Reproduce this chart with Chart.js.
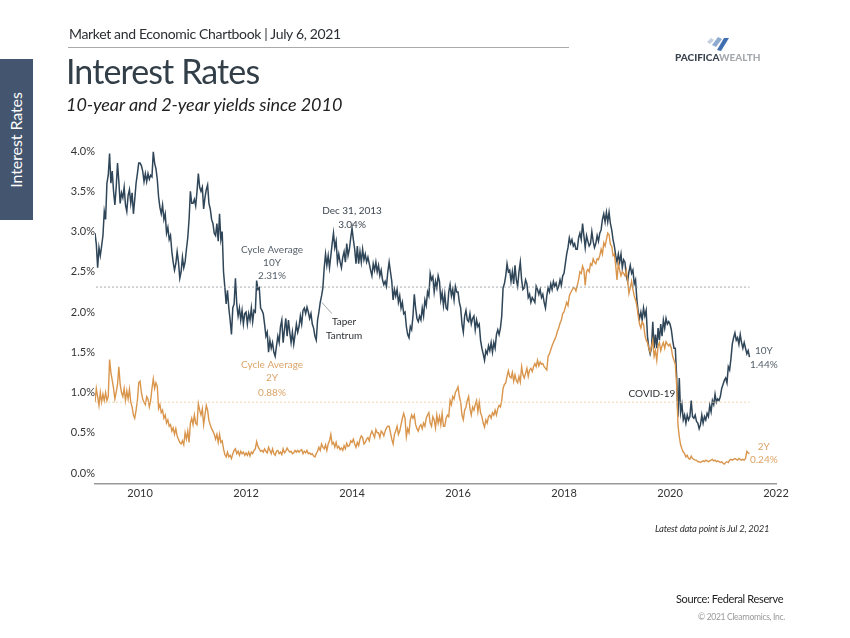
<!DOCTYPE html>
<html>
<head>
<meta charset="utf-8">
<title>Interest Rates</title>
<script src="https://cdn.jsdelivr.net/npm/chart.js@4"></script>
<style>
  html, body { margin: 0; padding: 0; background: #fff; }
  body { position: relative; width: 850px; height: 638px; overflow: hidden; font-family: Lato, sans-serif; }
  canvas { position: absolute; left: 0; top: 0; }
  .t { position: absolute; white-space: nowrap; line-height: 1; }
  #book { left: 69px; top: 27px; font-size: 14px; letter-spacing: -0.34px; color: #2b2f33; }
  #rule { position: absolute; left: 68px; top: 47px; width: 501px; height: 1px; background: #aaa; }
  #title { left: 66px; top: 54px; font-size: 34px; letter-spacing: -0.9px; font-weight: 400; color: #333f48; }
  #sub { left: 66px; top: 95px; font-size: 18px; letter-spacing: -0.05px; font-style: italic; color: #222; }
  #side { position: absolute; left: 0; top: 59px; width: 33px; height: 161px; background: #44566f; }
  #sideText { left: 16px; top: 140px; font-size: 16px; color: #fff; letter-spacing: -0.1px; transform: translate(-50%, -50%) rotate(-90deg); }
  #latest { left: 655px; top: 524px; font-size: 9.5px; letter-spacing: -0.25px; font-style: italic; color: #333; }
  #source { left: 676px; top: 593px; font-size: 11px; letter-spacing: -0.35px; color: #222; }
  #copy { left: 698px; top: 613px; font-size: 8.5px; letter-spacing: -0.3px; color: #999; }
  #logo { position: absolute; left: 706px; top: 36px; }
  #brand { left: 675px; top: 52px; font-size: 10px; font-weight: 900; color: #3c4450; }
  #brand span { color: #a5a9ad; }
</style>
</head>
<body>
<canvas id="ratesChart" width="850" height="638"></canvas>
<div class="t" id="book">Market and Economic Chartbook | July 6, 2021</div>
<div id="rule"></div>
<div class="t" id="title">Interest Rates</div>
<div class="t" id="sub">10-year and 2-year yields since 2010</div>
<div id="side"></div>
<div class="t" id="sideText">Interest Rates</div>
<svg id="logo" width="24" height="16">
  <polygon points="1,6 5,2 8,4 4,8" fill="#c3cfe0"/>
  <polygon points="6,9 12,1 16,3 10,11" fill="#8fabd0"/>
  <polygon points="11,14 18,2 23,2 15,15" fill="#3f6fb0"/>
</svg>
<div class="t" id="brand">PACIFICA<span>WEALTH</span></div>
<div class="t" id="latest">Latest data point is Jul 2, 2021</div>
<div class="t" id="source">Source: Federal Reserve</div>
<div class="t" id="copy">© 2021 Clearnomics, Inc.</div>

<script>
// one reading every 0.025 of a year, first one at 2009.15
var firstYear = 2009.15;
var yearStep = 0.025;

var tenYear = [
  2.98,2.84,2.55,2.80,2.70,2.82,2.95,3.25,3.15,3.60,3.70,3.97,3.60,3.75,3.50,3.33,3.55,3.85,3.62,3.35,3.48,3.42,3.55,3.33,3.25,3.45,3.52,3.35,3.48,3.22,3.40,3.60,3.72,3.85,
  // 2010
  3.85,3.82,3.75,3.62,3.72,3.62,3.72,3.65,3.70,3.68,3.99,3.85,3.78,3.65,3.43,3.30,3.22,3.33,3.15,3.22,
  2.98,3.05,2.90,2.95,2.75,2.62,2.52,2.60,2.75,2.62,2.42,2.50,2.68,2.55,2.62,2.78,2.92,3.15,3.50,3.35,
  // 2011
  3.35,3.40,3.32,3.50,3.72,3.55,3.50,3.55,3.28,3.42,3.52,3.58,3.35,3.28,3.15,3.10,2.98,2.95,3.10,2.88,
  3.22,2.90,3.00,2.50,2.31,2.10,2.27,2.05,1.90,1.72,2.05,2.10,2.42,2.10,1.95,2.05,1.90,2.02,1.85,1.98,
  // 2012
  2.00,1.85,1.98,1.90,2.05,1.88,2.02,2.00,2.39,2.28,2.30,2.05,2.02,1.98,1.85,1.70,1.75,1.50,1.65,1.55,
  1.62,1.50,1.45,1.58,1.70,1.62,1.82,1.90,1.62,1.78,1.92,1.70,1.90,1.75,1.62,1.75,1.60,1.72,1.85,1.75,
  // 2013
  1.82,1.95,1.85,2.02,2.05,1.98,2.06,2.00,1.92,1.98,1.85,1.80,1.70,1.65,1.90,2.00,2.12,2.20,2.30,2.55,
  2.72,2.58,2.70,2.55,2.70,2.85,2.98,2.80,2.88,2.62,2.72,2.62,2.55,2.68,2.75,2.62,2.85,2.70,2.78,2.92,
  // 2014
  3.04,2.90,2.78,2.60,2.82,2.60,2.75,2.62,2.78,2.65,2.72,2.62,2.68,2.60,2.52,2.45,2.60,2.52,2.62,2.50,
  2.58,2.45,2.52,2.40,2.34,2.38,2.32,2.50,2.62,2.50,2.38,2.15,2.28,2.20,2.28,2.12,2.20,2.05,2.12,1.98,
  // 2015
  2.00,1.82,1.72,1.68,1.82,1.78,1.95,2.22,2.05,1.92,1.88,1.95,1.90,2.05,1.95,2.15,2.08,2.25,2.20,2.48,
  2.40,2.44,2.25,2.38,2.30,2.45,2.38,2.15,2.24,2.08,2.22,2.05,2.03,2.25,2.34,2.20,2.28,2.15,2.32,2.25,
  // 2016
  2.25,2.12,2.05,1.85,1.75,1.95,2.02,1.90,1.88,1.98,1.85,1.92,1.95,1.78,1.90,1.82,1.85,1.65,1.55,1.48,
  1.40,1.52,1.48,1.58,1.52,1.62,1.50,1.62,1.55,1.72,1.78,1.72,1.80,1.95,2.30,2.35,2.45,2.60,2.50,2.52,
  // 2017
  2.38,2.50,2.35,2.58,2.40,2.32,2.50,2.62,2.40,2.28,2.30,2.40,2.35,2.18,2.22,2.12,2.18,2.15,2.12,2.32,
  2.28,2.22,2.28,2.18,2.22,2.12,2.05,2.20,2.30,2.25,2.35,2.28,2.38,2.32,2.36,2.28,2.32,2.40,2.33,2.45,
  // 2018
  2.48,2.60,2.72,2.80,2.92,2.85,2.90,2.82,2.85,2.78,2.78,2.92,2.98,2.90,3.10,2.95,2.80,2.95,2.88,2.82,
  2.85,3.00,2.88,2.80,2.85,2.95,2.88,2.98,3.02,3.15,3.22,3.12,3.24,3.12,3.24,3.10,3.02,2.90,2.82,2.70,
  // 2019
  2.62,2.72,2.62,2.72,2.55,2.65,2.62,2.45,2.38,2.50,2.58,2.48,2.52,2.35,2.40,2.15,2.00,1.92,2.00,1.90,
  2.05,1.95,2.02,1.70,1.55,1.48,1.55,1.88,1.55,1.72,1.55,1.80,1.65,1.85,1.70,1.90,1.80,1.92,1.85,1.88,
  // 2020
  1.85,1.78,1.65,1.55,1.55,1.20,0.70,1.18,0.75,0.85,0.66,0.72,0.62,0.72,0.66,0.70,0.90,0.70,0.68,0.72,
  0.64,0.62,0.55,0.60,0.72,0.62,0.70,0.66,0.74,0.70,0.84,0.76,0.90,0.85,0.98,0.88,0.92,0.90,0.95,1.05,
  // 2021
  1.10,1.15,1.18,1.12,1.32,1.28,1.42,1.60,1.68,1.74,1.65,1.68,1.60,1.72,1.62,1.55,1.62,1.55,1.48,1.52,1.44
];

var twoYear = [
  0.88,1.05,0.95,0.84,1.00,0.88,0.98,0.90,1.00,0.90,0.95,1.41,1.25,1.15,1.05,0.92,1.00,1.10,1.32,1.10,1.00,0.95,1.05,0.90,1.02,0.92,1.04,0.88,0.82,0.72,0.68,0.78,0.90,1.12,
  // 2010
  1.14,1.00,0.92,0.88,0.85,0.95,0.92,0.82,0.90,1.05,1.17,1.05,1.12,1.08,0.80,0.85,0.75,0.78,0.68,0.72,
  0.62,0.66,0.58,0.60,0.52,0.56,0.48,0.55,0.46,0.42,0.38,0.36,0.40,0.35,0.50,0.42,0.52,0.38,0.62,0.68,
  // 2011
  0.60,0.72,0.62,0.60,0.86,0.78,0.72,0.80,0.60,0.72,0.84,0.78,0.65,0.60,0.55,0.52,0.48,0.42,0.48,0.38,
  0.48,0.38,0.40,0.30,0.23,0.20,0.26,0.20,0.22,0.18,0.24,0.28,0.30,0.24,0.27,0.22,0.27,0.24,0.26,0.22,
  // 2012
  0.25,0.22,0.26,0.21,0.26,0.24,0.28,0.30,0.39,0.33,0.30,0.27,0.28,0.26,0.30,0.27,0.25,0.32,0.28,0.24,
  0.30,0.24,0.22,0.27,0.28,0.24,0.26,0.23,0.30,0.25,0.27,0.31,0.28,0.26,0.27,0.24,0.25,0.28,0.26,0.28,
  // 2013
  0.26,0.28,0.29,0.24,0.27,0.25,0.28,0.24,0.25,0.23,0.24,0.21,0.20,0.24,0.27,0.32,0.28,0.36,0.32,0.30,
  0.35,0.28,0.36,0.40,0.48,0.36,0.38,0.32,0.38,0.31,0.33,0.29,0.31,0.28,0.34,0.30,0.37,0.33,0.34,0.40,
  // 2014
  0.38,0.42,0.36,0.32,0.38,0.34,0.42,0.46,0.44,0.36,0.38,0.42,0.44,0.40,0.48,0.52,0.48,0.44,0.54,0.50,
  0.50,0.44,0.52,0.50,0.46,0.52,0.56,0.58,0.58,0.50,0.42,0.36,0.48,0.52,0.58,0.48,0.52,0.60,0.68,0.74,
  // 2015
  0.68,0.45,0.55,0.50,0.66,0.72,0.68,0.72,0.60,0.55,0.52,0.58,0.60,0.55,0.62,0.58,0.68,0.72,0.75,0.62,
  0.58,0.70,0.66,0.56,0.72,0.62,0.70,0.60,0.74,0.58,0.58,0.68,0.72,0.70,0.90,0.85,0.95,0.92,1.00,1.03,
  // 2016
  1.07,0.95,0.88,0.72,0.66,0.78,0.82,0.90,0.95,0.80,0.72,0.82,0.78,0.85,0.90,0.76,0.88,0.75,0.70,0.62,
  0.57,0.66,0.62,0.70,0.72,0.68,0.75,0.72,0.78,0.72,0.80,0.84,0.82,0.90,1.05,1.10,1.12,1.20,1.27,1.20,
  // 2017
  1.18,1.25,1.14,1.22,1.15,1.12,1.20,1.13,1.32,1.22,1.18,1.24,1.30,1.20,1.28,1.30,1.26,1.32,1.36,1.32,
  1.40,1.33,1.38,1.35,1.36,1.32,1.30,1.28,1.45,1.48,1.53,1.58,1.62,1.66,1.70,1.76,1.80,1.86,1.90,1.98,
  // 2018
  2.00,2.06,2.12,2.08,2.20,2.24,2.27,2.30,2.30,2.26,2.33,2.40,2.50,2.48,2.57,2.52,2.33,2.50,2.53,2.50,
  2.60,2.58,2.66,2.62,2.60,2.66,2.65,2.70,2.78,2.72,2.86,2.82,2.90,2.98,2.96,2.84,2.82,2.70,2.72,2.58,
  // 2019
  2.40,2.60,2.52,2.45,2.50,2.48,2.45,2.52,2.40,2.23,2.30,2.38,2.28,2.20,2.15,2.08,1.95,1.85,1.80,1.88,
  1.85,1.72,1.65,1.62,1.55,1.50,1.57,1.65,1.45,1.52,1.40,1.58,1.62,1.52,1.58,1.62,1.55,1.63,1.60,1.58,
  // 2020
  1.60,1.55,1.45,1.40,1.35,1.10,0.60,0.45,0.35,0.30,0.26,0.24,0.20,0.22,0.18,0.17,0.21,0.18,0.17,0.16,
  0.16,0.14,0.14,0.13,0.14,0.15,0.14,0.16,0.15,0.14,0.15,0.16,0.17,0.15,0.16,0.14,0.15,0.14,0.13,0.14,
  // 2021
  0.12,0.11,0.13,0.14,0.13,0.16,0.17,0.16,0.17,0.18,0.17,0.16,0.18,0.17,0.16,0.17,0.16,0.18,0.27,0.25,0.24
];

var dates = tenYear.map(function (v, i) { return firstYear + i * yearStep; });

// averages over the cycle, drawn as the dotted lines
var averageYears = [2009.17, 2021.5];
var average10y = [2.31, 2.31];
var average2y = [0.88, 0.88];

// leader from the taper tantrum label to the line
var taperYears = [2013.43, 2013.62];
var taperValues = [2.12, 1.98];

var xTicks = [2010, 2012, 2014, 2016, 2018, 2020, 2022];
var yTicks = [0, 0.5, 1, 1.5, 2, 2.5, 3, 3.5, 4];

var noteLines = ['Cycle Average', '10Y', '2.31%', 'Dec 31, 2013', '3.04%', 'Taper', 'Tantrum',
  'Cycle Average', '2Y', '0.88%', 'COVID-19', '10Y', '1.44%', '2Y', '0.24%'];
var noteYears = [2012.49, 2012.49, 2012.49, 2014, 2014, 2013.85, 2013.85,
  2012.49, 2012.49, 2012.49, 2019.66, 2021.77, 2021.77, 2021.77, 2021.77];
var noteValues = [2.77, 2.61, 2.45, 3.26, 3.09, 1.88, 1.71,
  1.34, 1.18, 1.0, 0.99, 1.52, 1.35, 0.32, 0.16];
var noteColors = ['#56616b', '#56616b', '#56616b', '#3c4650', '#3c4650', '#2b2f33', '#2b2f33',
  '#dba468', '#dba468', '#dba468', '#2b2f33', '#56616b', '#56616b', '#dba468', '#dba468'];

function points(xs, ys) {
  return ys.map(function (v, i) { return { x: xs[i], y: v }; });
}

// writes the chart notes at their data positions
var notesPlugin = {
  id: 'notes',
  afterDatasetsDraw: function (chart) {
    var ctx = chart.ctx;
    ctx.save();
    ctx.font = '10px Lato';
    ctx.textAlign = 'center';
    ctx.textBaseline = 'middle';
    noteLines.forEach(function (line, i) {
      ctx.fillStyle = noteColors[i];
      ctx.fillText(line, chart.scales.x.getPixelForValue(noteYears[i]), chart.scales.y.getPixelForValue(noteValues[i]));
    });
    ctx.restore();
  }
};

Chart.defaults.font.family = 'Lato';

new Chart(document.getElementById('ratesChart').getContext('2d'), {
  type: 'line',
  data: {
    datasets: [
      { data: points(averageYears, average10y), borderColor: '#8d959b', borderWidth: 0.8, borderDash: [2, 2] },
      { data: points(averageYears, average2y), borderColor: '#ecc99c', borderWidth: 0.8, borderDash: [2, 2] },
      { data: points(dates, twoYear), borderColor: '#d9954c', borderWidth: 1.4 },
      { data: points(dates, tenYear), borderColor: '#2f4558', borderWidth: 1.5 },
      { data: points(taperYears, taperValues), borderColor: '#8a9097', borderWidth: 0.8 }
    ]
  },
  options: {
    responsive: false,
    animation: false,
    parsing: false,
    elements: { point: { radius: 0 }, line: { tension: 0 } },
    layout: { padding: { left: 0, right: 74, top: 143, bottom: 124 } },
    plugins: { legend: { display: false }, tooltip: { enabled: false } },
    scales: {
      x: {
        type: 'linear',
        min: 2009.15,
        max: 2022,
        afterBuildTicks: function (axis) { axis.ticks = xTicks.map(function (v) { return { value: v }; }); },
        afterFit: function (axis) { axis.height = 30; },
        grid: { display: false, tickLength: 0 },
        border: { color: '#999', width: 1.5 },
        ticks: { maxRotation: 0, autoSkip: false, color: '#333', padding: 3, font: { size: 11 },
          callback: function (v) { return String(v); } }
      },
      y: {
        min: -0.137,
        max: 4.1,
        afterBuildTicks: function (axis) { axis.ticks = yTicks.map(function (v) { return { value: v }; }); },
        afterFit: function (axis) { axis.width = 95; },
        grid: { display: false, tickLength: 0 },
        border: { display: false },
        ticks: { color: '#333', padding: 0, font: { size: 11 },
          callback: function (v) { return v.toFixed(1) + '%'; } }
      }
    }
  },
  plugins: [notesPlugin]
});
</script>
</body>
</html>
